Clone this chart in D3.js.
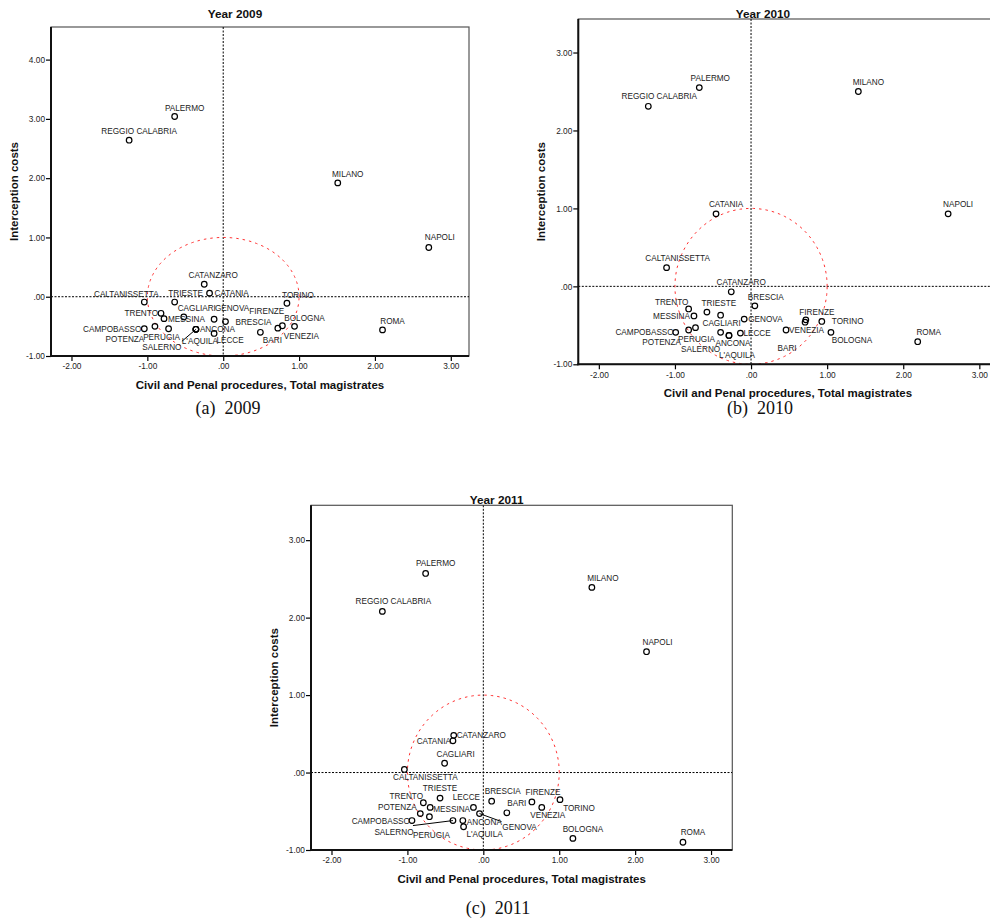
<!DOCTYPE html>
<html><head><meta charset="utf-8">
<script src="https://cdn.jsdelivr.net/npm/d3@7"></script>
<style>body{margin:0;background:#fff}svg{display:block}</style>
</head><body><svg id="chart" width="990" height="923"></svg>
<script>
// ---------- DATA ----------
const cities = ["PALERMO","REGGIO CALABRIA","MILANO","NAPOLI","CATANZARO","CATANIA","CALTANISSETTA","TRIESTE","TORINO","TRENTO","MESSINA","CAGLIARI","GENOVA","BRESCIA","FIRENZE","BOLOGNA","VENEZIA","BARI","ROMA","CAMPOBASSO","POTENZA","PERUGIA","ANCONA","SALERNO","L'AQUILA","LECCE"];
const x2009 = [-0.64,-1.24,1.51,2.71,-0.25,-0.18,-1.04,-0.64,0.84,-0.82,-0.78,-0.52,-0.12,0.03,0.72,0.94,0.78,0.49,2.10,-1.04,-0.90,-0.72,-0.36,-0.36,-0.36,-0.12];
const y2009 = [3.04,2.64,1.92,0.83,0.21,0.06,-0.09,-0.09,-0.11,-0.28,-0.37,-0.34,-0.38,-0.42,-0.53,-0.50,-0.49,-0.60,-0.56,-0.54,-0.50,-0.54,-0.55,-0.55,-0.55,-0.62];
const x2010 = [-0.68,-1.35,1.41,2.59,-0.26,-0.46,-1.11,-0.58,0.93,-0.82,-0.75,-0.40,-0.09,0.05,0.72,1.05,0.46,0.71,2.19,-0.99,-0.82,-0.73,-0.29,-0.40,-0.29,-0.14];
const y2010 = [2.55,2.31,2.50,0.93,-0.07,0.93,0.24,-0.33,-0.45,-0.29,-0.38,-0.37,-0.42,-0.25,-0.43,-0.59,-0.56,-0.46,-0.71,-0.59,-0.56,-0.53,-0.63,-0.59,-0.63,-0.60];
const x2011 = [-0.76,-1.33,1.43,2.15,-0.39,-0.40,-1.04,-0.57,1.01,-0.79,-0.70,-0.51,-0.05,0.11,0.64,1.18,0.77,0.31,2.63,-0.94,-0.83,-0.71,-0.27,-0.40,-0.26,-0.13];
const y2011 = [2.57,2.08,2.39,1.56,0.48,0.41,0.04,-0.33,-0.35,-0.39,-0.45,0.12,-0.53,-0.37,-0.38,-0.85,-0.45,-0.52,-0.90,-0.62,-0.53,-0.57,-0.62,-0.62,-0.70,-0.45];

const xTicks = [-2,-1,0,1,2,3];
const xTickLabels = ["-2.00","-1.00",".00","1.00","2.00","3.00"];
const yTicksA = [-1,0,1,2,3,4];
const yTickLabelsA = ["-1.00",".00","1.00","2.00","3.00","4.00"];
const yTicksBC = [-1,0,1,2,3];
const yTickLabelsBC = ["-1.00",".00","1.00","2.00","3.00"];
const titles = ["Year 2009","Year 2010","Year 2011"];
const captions = ["(a)  2009","(b)  2010","(c)  2011"];
const xTitle = "Civil and Penal procedures, Total magistrates";
const yTitle = "Interception costs";

// ---------- LABEL LAYOUT (pixel offsets from each point: dx, dy, anchor) ----------
const labA = [[10,-8,"m"],[10,-9,"m"],[10,-9,"m"],[11,-10,"m"],[9,-9,"m"],[5,0,"s"],[-18,-8,"m"],[11,-9,"m"],[11,-8,"m"],[-3,0,"e"],[4,0,"s"],[13,-9,"m"],[18,-11,"m"],[10,0,"s"],[-11,-17,"m"],[10,-8,"m"],[19,10,"m"],[12,8,"m"],[10,-9,"m"],[-3,0,"e"],[-30,13,"m"],[-7,8,"m"],[4,0,"s"],[-34,18,"m"],[4,12,"m"],[16,7,"m"]];
const labB = [[11,-10,"m"],[11,-10,"m"],[10,-9,"m"],[10,-10,"m"],[10,-10,"m"],[10,-10,"m"],[11,-10,"m"],[12,-9,"m"],[10,0,"s"],[-17,-7,"m"],[-4,0,"e"],[1,8,"m"],[4,0,"s"],[11,-9,"m"],[11,-8,"m"],[21,8,"m"],[3,0,"s"],[-18,26,"m"],[11,-10,"m"],[-2,0,"e"],[-27,12,"m"],[1,11,"m"],[4,8,"m"],[-20,17,"m"],[8,20,"m"],[3,0,"s"]];
const labC = [[10,-10,"m"],[11,-10,"m"],[11,-9,"m"],[11,-10,"m"],[3,0,"s"],[-2,0,"e"],[21,8,"m"],[0,-10,"m"],[19,8,"m"],[-17,-7,"m"],[3,2,"s"],[11,-9,"m"],[40,13,"m"],[11,-10,"m"],[11,-10,"m"],[10,-9,"m"],[6,8,"m"],[10,-10,"m"],[10,-10,"m"],[-2,0,"e"],[-23,-7,"m"],[2,18,"m"],[4,1,"s"],[-59,11,"m"],[21,7,"m"],[-7,-10,"m"]];
const leadersA = {"SALERNO":[-14,12]};
const leadersB = {};
const leadersC = {"SALERNO":[-40,5],"GENOVA":[22,8]};

const panels = [
  {xs:x2009, ys:y2009, lab:labA, lead:leadersA, yt:yTicksA, ytl:yTickLabelsA, left:51, right:469, top:27, bottom:356, xd:[-2.27,3.24], yd:[-1,4.55], titleY:14, cap:[228,408], title:titles[0], caption:captions[0]},
  {xs:x2010, ys:y2010, lab:labB, lead:leadersB, yt:yTicksBC, ytl:yTickLabelsBC, left:578.3, right:997.6, top:19, bottom:364.3, xd:[-2.27,3.24], yd:[-1,3.43], titleY:14, cap:[760,408], title:titles[1], caption:captions[1]},
  {xs:x2011, ys:y2011, lab:labC, lead:leadersC, yt:yTicksBC, ytl:yTickLabelsBC, left:311, right:732.3, top:505.3, bottom:850, xd:[-2.27,3.28], yd:[-1,3.45], titleY:500, cap:[498,908], title:titles[2], caption:captions[2]}
];

const svg = d3.select("#chart");
const SANS = "'Liberation Sans', Arial, sans-serif";
const anchorMap = {m:"middle", s:"start", e:"end"};

panels.forEach((p, pi) => {
  const x = d3.scaleLinear().domain(p.xd).range([p.left, p.right]);
  const y = d3.scaleLinear().domain(p.yd).range([p.bottom, p.top]);
  const g = svg.append("g");
  const clipId = "clip" + pi;
  svg.append("clipPath").attr("id", clipId).append("rect")
    .attr("x", p.left).attr("y", p.top).attr("width", p.right - p.left).attr("height", p.bottom - p.top);

  // frame
  g.append("rect").attr("x", p.left).attr("y", p.top).attr("width", p.right - p.left).attr("height", p.bottom - p.top)
    .attr("fill", "none").attr("stroke", "#555").attr("stroke-width", 1.2);

  const inner = g.append("g").attr("clip-path", `url(#${clipId})`);
  // reference lines
  inner.append("line").attr("x1", x(0)).attr("x2", x(0)).attr("y1", p.top).attr("y2", p.bottom)
    .attr("stroke", "#000").attr("stroke-width", 1).attr("stroke-dasharray", "2,1.5");
  inner.append("line").attr("x1", p.left).attr("x2", p.right).attr("y1", y(0)).attr("y2", y(0))
    .attr("stroke", "#000").attr("stroke-width", 1).attr("stroke-dasharray", "2,1.5");
  // unit circle
  const angles = d3.range(0, 361, 2).map(a => a * Math.PI / 180);
  inner.append("path")
    .attr("d", d3.line().x(a => x(Math.cos(a))).y(a => y(Math.sin(a)))(angles))
    .attr("fill", "none").attr("stroke", "#ff3030").attr("stroke-width", 1).attr("stroke-dasharray", "2.5,4");

  // axes
  const ax = g.append("g").attr("transform", `translate(0,${p.bottom})`)
    .call(d3.axisBottom(x).tickValues(xTicks).tickFormat((d, i) => xTickLabels[i]).tickSize(5).tickSizeOuter(0).tickPadding(2.5));
  const ay = g.append("g").attr("transform", `translate(${p.left},0)`)
    .call(d3.axisLeft(y).tickValues(p.yt).tickFormat((d, i) => p.ytl[i]).tickSize(5).tickSizeOuter(0).tickPadding(1));
  [ax, ay].forEach(a => {
    a.select(".domain").remove();
    a.selectAll("line").attr("stroke", "#000").attr("stroke-width", 1.2);
    a.selectAll("text").attr("font-family", SANS).attr("font-size", "8.3px").attr("fill", "#222");
  });
  g.append("line").attr("x1", p.left).attr("x2", p.left).attr("y1", p.top).attr("y2", p.bottom + 1)
    .attr("stroke", "#111").attr("stroke-width", 2);
  g.append("line").attr("x1", p.left - 1).attr("x2", p.right).attr("y1", p.bottom).attr("y2", p.bottom)
    .attr("stroke", "#111").attr("stroke-width", 2);

  // leaders
  cities.forEach((c, i) => {
    const ld = p.lead[c];
    if (ld) {
      g.append("line").attr("x1", x(p.xs[i])).attr("y1", y(p.ys[i]))
        .attr("x2", x(p.xs[i]) + ld[0]).attr("y2", y(p.ys[i]) + ld[1])
        .attr("stroke", "#000").attr("stroke-width", 1);
    }
  });

  // points
  g.selectAll("circle.pt").data(cities).enter().append("circle").attr("class", "pt")
    .attr("cx", (d, i) => x(p.xs[i])).attr("cy", (d, i) => y(p.ys[i])).attr("r", 2.8)
    .attr("fill", "none").attr("stroke", "#000").attr("stroke-width", 1.2);

  // labels
  g.selectAll("text.lbl").data(cities).enter().append("text").attr("class", "lbl")
    .attr("x", (d, i) => x(p.xs[i]) + p.lab[i][0])
    .attr("y", (d, i) => y(p.ys[i]) + p.lab[i][1])
    .attr("dy", "0.36em")
    .attr("text-anchor", (d, i) => anchorMap[p.lab[i][2]])
    .attr("font-family", SANS).attr("font-size", "8.2px").attr("fill", "#222")
    .text(d => d);

  // titles
  const cx = (p.left + Math.min(p.right, p.right)) / 2;
  svg.append("text").attr("x", cx - 25).attr("y", p.titleY).attr("dy", "0.36em")
    .attr("text-anchor", "middle").attr("font-family", SANS).attr("font-weight", "bold").attr("font-size", "11.8px")
    .attr("fill", "#111").text(p.title);
  svg.append("text").attr("x", cx).attr("y", p.bottom + 29).attr("dy", "0.36em")
    .attr("text-anchor", "middle").attr("font-family", SANS).attr("font-weight", "bold").attr("font-size", "11.5px")
    .attr("fill", "#111").text(xTitle);
  const ycy = (p.top + p.bottom) / 2;
  svg.append("text").attr("transform", `translate(${p.left - 37},${ycy}) rotate(-90)`).attr("dy", "0.36em")
    .attr("text-anchor", "middle").attr("font-family", SANS).attr("font-weight", "bold").attr("font-size", "11.5px")
    .attr("fill", "#111").text(yTitle);
  svg.append("text").attr("x", p.cap[0]).attr("y", p.cap[1]).attr("dy", "0.36em")
    .attr("text-anchor", "middle").attr("font-family", "'Liberation Serif', 'Times New Roman', serif")
    .attr("font-size", "18px").attr("fill", "#111").attr("xml:space", "preserve").style("white-space", "pre")
    .text(p.caption);
});
</script>
</body></html>
